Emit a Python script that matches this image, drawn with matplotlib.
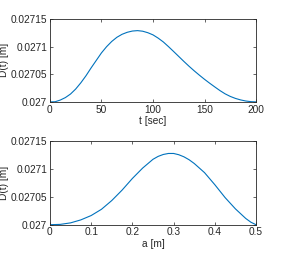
import matplotlib.pyplot as plt

# values (height above 0.027 as a fraction of 0.00015)
t_sec = [0, 5, 10, 15, 20, 25, 30, 35, 40, 45, 50, 55, 60, 65, 70, 75, 80, 85, 90, 95, 100,
         105, 110, 115, 120, 125, 130, 135, 140, 145, 150, 155, 160, 165, 170, 175, 180, 185, 190, 195, 200]
d_t = [0.0, 0.002, 0.022, 0.052, 0.095, 0.155, 0.23, 0.315, 0.41, 0.50, 0.59, 0.665, 0.728, 0.778,
       0.814, 0.838, 0.853, 0.858, 0.851, 0.833, 0.807, 0.768, 0.722, 0.666, 0.607, 0.547, 0.487, 0.429,
       0.374, 0.322, 0.272, 0.225, 0.18, 0.136, 0.097, 0.066, 0.042, 0.024, 0.011, 0.003, 0.0]

a_m = [0.0, 0.025, 0.05, 0.075, 0.1, 0.125, 0.15, 0.175, 0.2, 0.225, 0.25, 0.2625, 0.275, 0.2875,
       0.3, 0.3125, 0.325, 0.3375, 0.35, 0.375, 0.4, 0.425, 0.45, 0.475, 0.4875, 0.5]
d_a = [0.0, 0.004, 0.022, 0.058, 0.11, 0.185, 0.29, 0.415, 0.555, 0.68, 0.785, 0.82, 0.843, 0.855,
       0.855, 0.84, 0.815, 0.78, 0.735, 0.625, 0.48, 0.325, 0.19, 0.075, 0.03, 0.0]

d0 = 0.027
span = 0.00015
y_ticks = [0.027, 0.02705, 0.0271, 0.02715]
y_labels = ['0.027', '0.02705', '0.0271', '0.02715']

plt.rcParams['font.family'] = 'Liberation Sans'
plt.rcParams['font.size'] = 7.3
txt = '#262626'

fig = plt.figure(figsize=(2.82, 2.58), dpi=100)
ax1 = fig.add_axes([0.177, 0.605, 0.731, 0.322])
ax2 = fig.add_axes([0.177, 0.129, 0.731, 0.323])

ax1.plot(t_sec, [d0 + v * span for v in d_t], color='#0072BD', lw=0.8)
ax1.set_xlim(0, 200)
ax1.set_xticks([0, 50, 100, 150, 200])
ax1.set_xlabel('t [sec]', color=txt, labelpad=1)

ax2.plot(a_m, [d0 + v * span for v in d_a], color='#0072BD', lw=0.8)
ax2.set_xlim(0, 0.5)
ax2.set_xticks([0, 0.1, 0.2, 0.3, 0.4, 0.5])
ax2.set_xticklabels(['0', '0.1', '0.2', '0.3', '0.4', '0.5'])
ax2.set_xlabel('a [m]', color=txt, labelpad=1)

for ax in (ax1, ax2):
    ax.set_ylim(0.027, 0.02715)
    ax.set_yticks(y_ticks)
    ax.set_yticklabels(y_labels)
    ax.set_ylabel('D(t) [m]', color=txt, labelpad=1)
    ax.tick_params(direction='in', top=True, right=True, length=2.5, width=0.5,
                   colors=txt, pad=2)
    for s in ax.spines.values():
        s.set_linewidth(0.6)
        s.set_color(txt)

fig.savefig('out.png', dpi=100)
